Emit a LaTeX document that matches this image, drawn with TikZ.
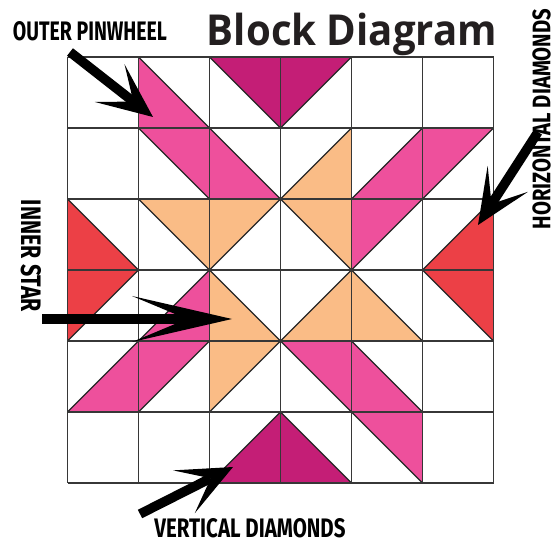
\documentclass[tikz,border=0pt]{standalone}
\usepackage{fontspec}
\usepackage{graphicx}
\usetikzlibrary{arrows.meta}
\newfontfamily\titlefont{Open Sans}
\newfontfamily\labelfont{Fira Sans}
\definecolor{qpink}{RGB}{238,80,156}
\definecolor{qmag}{RGB}{196,30,118}
\definecolor{qpeach}{RGB}{250,188,134}
\definecolor{qred}{RGB}{236,64,70}
\definecolor{qline}{RGB}{55,55,55}
\definecolor{qtitle}{RGB}{35,31,32}
\begin{document}
\begin{tikzpicture}[x=1pt,y=-1pt,
  gridline/.style={draw=qline,line width=1.2pt},
  diag/.style={draw=black!85,line width=1.1pt},
  lbl/.style={inner sep=0pt,font=\labelfont\bfseries,text=black},
  shortptr/.style={draw=black,line width=9.5pt,-{Stealth[length=55pt,width=48pt,inset=30pt,line width=0pt]}},
  longptr/.style={draw=black,line width=9.5pt,-{Stealth[length=100pt,width=46pt,inset=55pt,line width=0pt]}}]
\useasboundingbox (0,0) rectangle (558,545);
\fill[white] (0,0) rectangle (558,545);
\begin{scope}[shift={(67.5,57)},x=71pt,y=-71pt]
  % outer pinwheel
  \fill[qpink] (1,0)--(1,1)--(2,2)--(3,2)--cycle;
  \fill[qpink] (6,1)--(5,1)--(4,2)--(4,3)--cycle;
  \fill[qpink] (5,6)--(5,5)--(4,4)--(3,4)--cycle;
  \fill[qpink] (0,5)--(1,5)--(2,4)--(2,3)--cycle;
  % vertical diamonds
  \fill[qmag] (2,0)--(4,0)--(3,1)--cycle;
  \fill[qmag] (2,6)--(4,6)--(3,5)--cycle;
  % horizontal diamonds
  \fill[qred] (0,2)--(0,4)--(1,3)--cycle;
  \fill[qred] (6,2)--(6,4)--(5,3)--cycle;
  % inner star
  \fill[qpeach] (1,2)--(3,2)--(2,3)--cycle;
  \fill[qpeach] (4,1)--(4,3)--(3,2)--cycle;
  \fill[qpeach] (3,4)--(5,4)--(4,3)--cycle;
  \fill[qpeach] (2,3)--(2,5)--(3,4)--cycle;
  % diagonals
  \foreach \c/\r in {1/0,2/0,1/1,2/1,0/2,1/2,3/2,2/3,4/3,5/3,3/4,4/4,3/5,4/5}
    \draw[diag] (\c,\r) -- ++(1,1);
  \foreach \c/\r in {3/0,3/1,4/1,5/1,2/2,4/2,5/2,0/3,1/3,3/3,0/4,1/4,2/4,2/5}
    \draw[diag] (\c+1,\r) -- ++(-1,1);
  \foreach \i in {0,...,6} {
    \draw[gridline] (\i,0) -- (\i,6);
    \draw[gridline] (0,\i) -- (6,\i);
  }
\end{scope}
% title
\node[inner sep=0pt,anchor=base,text=qtitle,font=\titlefont\bfseries] (title) at (352,45.7) {\resizebox{290pt}{32.4pt}{Block Diagram}};
% labels
\node[lbl] (lo) at (90,31.5) {\resizebox{154pt}{19pt}{OUTER PINWHEEL}};
\node[lbl,rotate=90] (lh) at (541.5,119) {\resizebox{220pt}{18pt}{HORIZONTAL DIAMONDS}};
\node[lbl,rotate=-90] (li) at (31,256) {\resizebox{112pt}{20pt}{INNER STAR}};
\node[lbl] (lv) at (250,528) {\resizebox{191pt}{19pt}{VERTICAL DIAMONDS}};
% arrows
\coordinate (ot) at (70,52);  \coordinate (oh) at (153,117);
\coordinate (ht) at (538,132); \coordinate (hh) at (478,225);
\coordinate (it) at (42,319);  \coordinate (ih) at (232,319);
\coordinate (vt) at (140,514); \coordinate (vh) at (233,467);
\draw[shortptr] (ot) -- (oh);
\draw[shortptr] (ht) -- (hh);
\draw[longptr] (it) -- (ih);
\draw[shortptr] (vt) -- (vh);
\end{tikzpicture}
\end{document}
